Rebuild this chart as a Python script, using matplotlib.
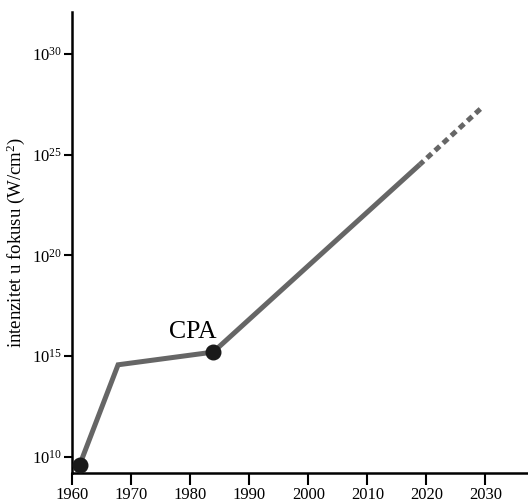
import matplotlib
matplotlib.use("Agg")
import matplotlib.pyplot as plt
import numpy as np

plt.rcParams['font.family'] = ['Liberation Serif', 'DejaVu Serif']
plt.rcParams['mathtext.fontset'] = 'custom'
plt.rcParams['mathtext.rm'] = 'Liberation Serif'
plt.rcParams['mathtext.it'] = 'Liberation Serif:italic'

# data (year, log10 intensity)
solid_years = [1961.3, 1967.8, 1983.9, 2018.9]
solid_log_int = [9.6, 14.57, 15.2, 24.52]
proj_years = [2018.9, 2029.6]
proj_log_int = [24.52, 27.4]
dot_years = [1961.3, 1983.9]
dot_log_int = [9.6, 15.2]
x_ticks = [1960, 1970, 1980, 1990, 2000, 2010, 2020, 2030]
y_ticks_exp = [10, 15, 20, 25, 30]

fig = plt.figure(figsize=(5.28, 5.03), dpi=100)
ax = fig.add_axes([72/528, 30/503, 456/528, 461/503])

gray = '#666666'
ax.plot(solid_years, 10**np.array(solid_log_int), color=gray, lw=3.6,
        solid_capstyle='butt', solid_joinstyle='miter', zorder=2)
ax.plot(proj_years, 10**np.array(proj_log_int), color=gray, lw=3.6,
        linestyle=(0.3, (1.3, 0.9)), dash_capstyle='butt', zorder=2)
ax.plot(dot_years, 10**np.array(dot_log_int), 'o', color='#1a1a1a',
        markersize=10.5, zorder=3)
ax.text(1984.5, 10**15.9, 'CPA', fontsize=18.5, ha='right', va='baseline')

ax.set_yscale('log')
ax.set_xlim(1960, 2037.2)
ax.set_ylim(10**9.196, 10**32.09)
ax.set_xticks(x_ticks)
ax.set_xticklabels([str(t) for t in x_ticks], fontsize=12)
ax.set_yticks([10.0**e for e in y_ticks_exp])
ax.set_yticklabels([r'$10^{%d}$' % e for e in y_ticks_exp], fontsize=12)
ax.minorticks_off()
ax.tick_params(axis='x', direction='out', length=8.3, width=1.5, pad=1.5)
ax.tick_params(axis='y', direction='out', length=6, width=1.5, pad=1)
for s in ['top', 'right']:
    ax.spines[s].set_visible(False)
for s in ['left', 'bottom']:
    ax.spines[s].set_linewidth(1.8)
ax.set_ylabel('intenzitet u fokusu (W/cm$^2$)', fontsize=13.5, labelpad=4)

fig.savefig('out.png', dpi=100)
